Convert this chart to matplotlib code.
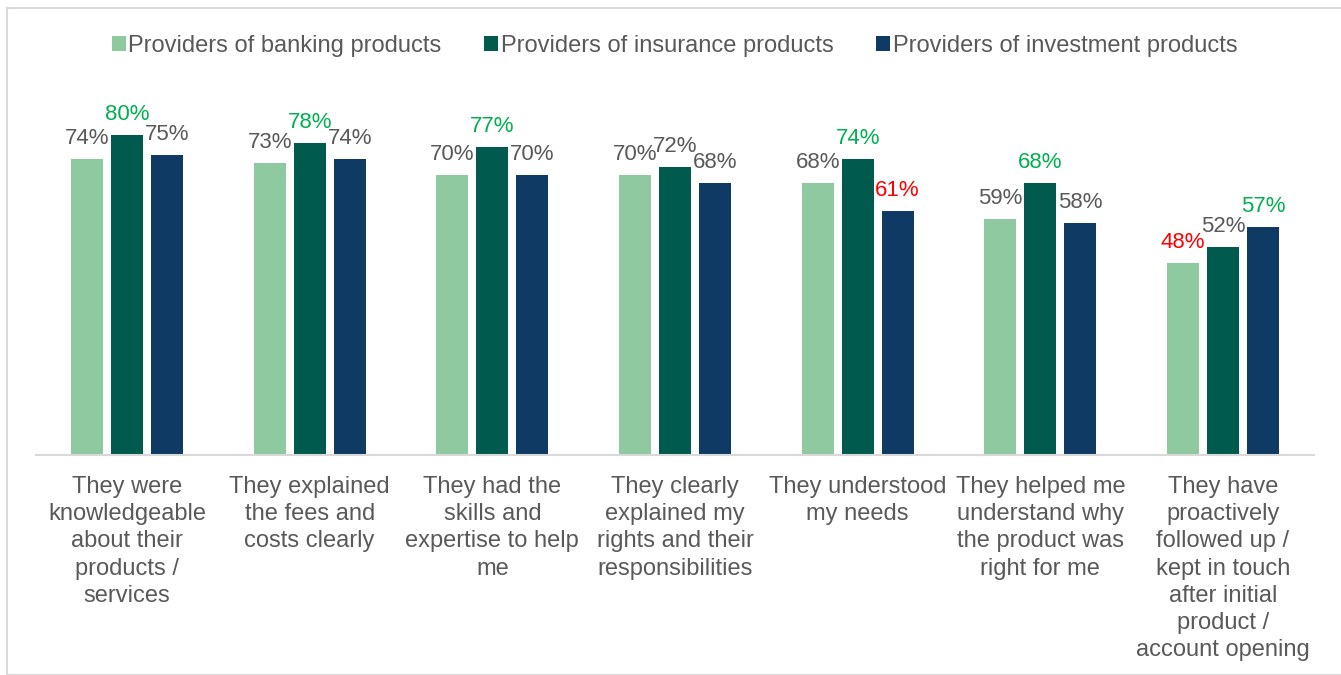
import numpy as np
import matplotlib.pyplot as plt
from matplotlib.patches import Rectangle

plt.rcParams['font.family'] = ['Liberation Sans', 'DejaVu Sans']

categories = [
    "They were\nknowledgeable\nabout their\nproducts /\nservices",
    "They explained\nthe fees and\ncosts clearly",
    "They had the\nskills and\nexpertise to help\nme",
    "They clearly\nexplained my\nrights and their\nresponsibilities",
    "They understood\nmy needs",
    "They helped me\nunderstand why\nthe product was\nright for me",
    "They have\nproactively\nfollowed up /\nkept in touch\nafter initial\nproduct /\naccount opening",
]
series_names = ["Providers of banking products",
                "Providers of insurance products",
                "Providers of investment products"]
banking = [74, 73, 70, 70, 68, 59, 48]
insurance = [80, 78, 77, 72, 74, 68, 52]
investment = [75, 74, 70, 68, 61, 58, 57]
# label colour codes: n = neutral, g = highest, r = lowest
label_codes = [
    ["n", "n", "n", "n", "n", "n", "r"],
    ["g", "g", "g", "n", "g", "g", "n"],
    ["n", "n", "n", "n", "r", "n", "g"],
]

bar_colors = ["#8FC9A0", "#005A4E", "#0F3A63"]
code_colors = {"n": "#595959", "g": "#00B050", "r": "#FF0000"}

W, H = 1341, 675
fig = plt.figure(figsize=(W / 100, H / 100), dpi=100)
fig.patches.append(Rectangle((7 / W, 0), 1, 1 - 8 / H, transform=fig.transFigure,
                             fill=False, edgecolor="#D9D9D9", linewidth=1.5))

ax = fig.add_axes([35.7 / W, (H - 455) / H, (1314.3 - 35.7) / W, 360 / H])
x = np.arange(len(categories))
bw = 32 / 182.7
step = 40 / 182.7
all_series = [banking, insurance, investment]
for i, vals in enumerate(all_series):
    pos = x + (i - 1) * step
    ax.bar(pos, vals, width=bw, color=bar_colors[i], label=series_names[i], zorder=2)
    for px, v, c in zip(pos, vals, label_codes[i]):
        ax.text(px, v + 2.4, f"{v}%", ha="center", va="bottom",
                fontsize=16, color=code_colors[c])

ax.set_xlim(-0.5, len(categories) - 0.5)
ax.set_ylim(0, 90)
ax.set_yticks([])
ax.set_xticks(x)
ax.set_xticklabels(categories, fontsize=17, color="#595959", linespacing=1.31)
ax.tick_params(axis="x", length=0, pad=15)
for s in ["top", "right", "left"]:
    ax.spines[s].set_visible(False)
ax.spines["bottom"].set_color("#D9D9D9")
ax.spines["bottom"].set_linewidth(1.5)

leg = fig.legend(loc="center", bbox_to_anchor=(0.503, 1 - 46 / H), ncol=3, frameon=False,
                 fontsize=17, handlelength=0.6, handleheight=0.6, handletextpad=0.1,
                 columnspacing=1.8)
for t in leg.get_texts():
    t.set_color("#595959")

fig.savefig("out.png", dpi=100)
